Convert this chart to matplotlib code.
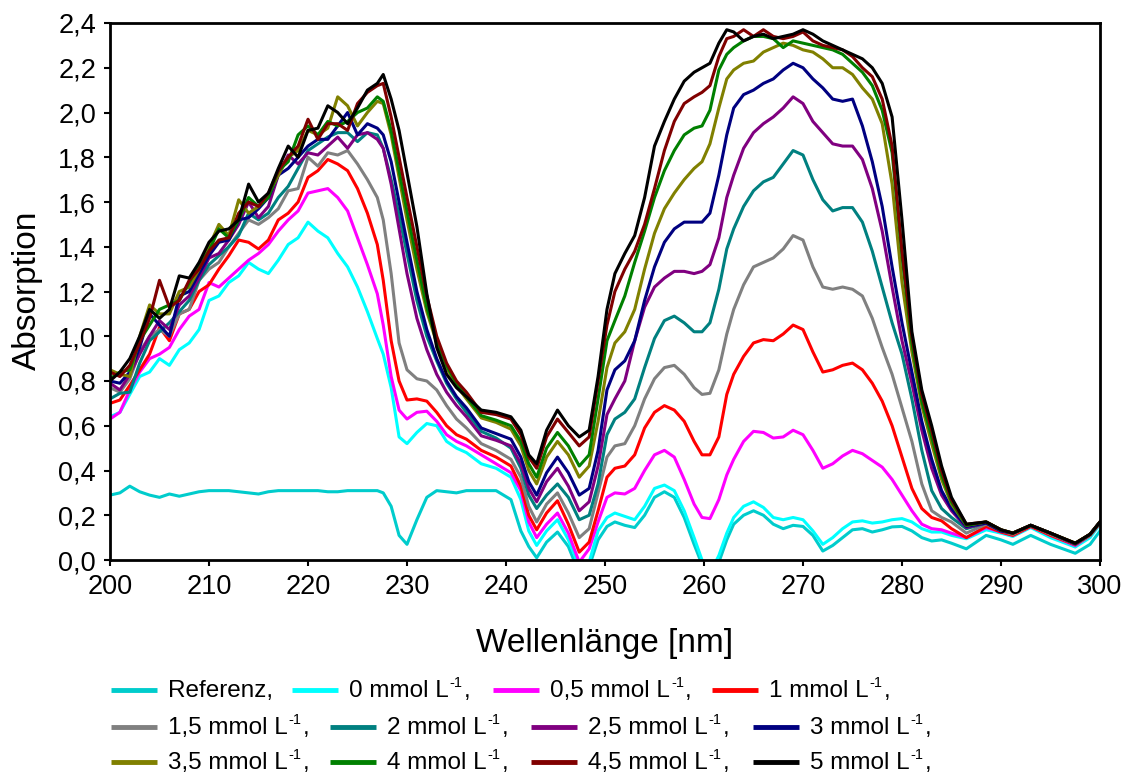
import matplotlib
matplotlib.use("Agg")
import matplotlib.pyplot as plt
from matplotlib.lines import Line2D
from matplotlib.ticker import FuncFormatter

plt.rcParams['font.family'] = ['Liberation Sans', 'DejaVu Sans']

# Wavelength grid (nm) shared by all spectra
wavelength = [200, 201, 202, 203, 204, 205, 206, 207, 208, 209,
              210, 211, 212, 213, 214, 215, 216, 217, 218, 219,
              220, 221, 222, 223, 224, 225, 226, 227,
              227.6, 228.4, 229.2, 230, 231, 232, 233, 234, 235, 236, 237.5, 239, 240.5,
              241.5, 242.3, 243.1, 244.1, 245.2, 246.3, 247.4, 248.4, 249.3,
              250.2, 251, 252, 253, 254, 255, 256, 257, 258, 259,
              259.8, 260.6, 261.5, 262.3, 263, 264, 265, 266, 267, 268, 269, 270,
              271, 272, 273, 274, 275, 276, 277, 278, 279, 280,
              281, 282, 283, 284, 285, 286.5, 288.5, 290, 291.2, 293, 295, 297.5, 299, 300]

referenz = [0.29, 0.30, 0.33, 0.305, 0.29, 0.28, 0.295, 0.285, 0.295, 0.305,
            0.31, 0.31, 0.31, 0.305, 0.30, 0.295, 0.305, 0.31, 0.31, 0.31,
            0.31, 0.31, 0.305, 0.305, 0.31, 0.31, 0.31, 0.31,
            0.30, 0.24, 0.11, 0.07, 0.18, 0.28, 0.31, 0.305, 0.30, 0.31, 0.31, 0.31, 0.27,
            0.13, 0.06, 0.01, 0.08, 0.125, 0.06, -0.06, -0.03, 0.09,
            0.15, 0.17, 0.155, 0.145, 0.20, 0.28, 0.305, 0.28, 0.19, 0.07,
            -0.02, -0.08, -0.01, 0.09, 0.16, 0.20, 0.22, 0.20, 0.16, 0.14, 0.155, 0.15,
            0.11, 0.04, 0.065, 0.10, 0.135, 0.14, 0.125, 0.135, 0.148, 0.15,
            0.13, 0.10, 0.085, 0.09, 0.075, 0.05, 0.11, 0.09, 0.07, 0.11, 0.07, 0.03, 0.07, 0.13]

conc_0 = [0.64, 0.66, 0.74, 0.82, 0.84, 0.90, 0.87, 0.94, 0.97, 1.03,
          1.16, 1.18, 1.24, 1.27, 1.33, 1.30, 1.28, 1.34, 1.41, 1.44,
          1.51, 1.47, 1.44, 1.37, 1.31, 1.22, 1.11, 0.99,
          0.92, 0.77, 0.55, 0.52, 0.57, 0.61, 0.60, 0.53, 0.50, 0.48, 0.43, 0.41, 0.37,
          0.27, 0.13, 0.065, 0.13, 0.18, 0.09, -0.03, -0.01, 0.13,
          0.19, 0.21, 0.195, 0.18, 0.24, 0.32, 0.335, 0.31, 0.22, 0.10,
          0.0, -0.06, 0.02, 0.12, 0.19, 0.24, 0.26, 0.235, 0.19, 0.18, 0.19, 0.18,
          0.13, 0.07, 0.10, 0.14, 0.17, 0.175, 0.165, 0.17, 0.18, 0.185,
          0.17, 0.14, 0.125, 0.125, 0.11, 0.095, 0.135, 0.12, 0.105, 0.145, 0.10, 0.058, 0.10, 0.16]

conc_05 = [0.63, 0.66, 0.76, 0.84, 0.90, 0.92, 0.95, 1.03, 1.09, 1.12,
           1.24, 1.22, 1.26, 1.30, 1.34, 1.37, 1.41, 1.47, 1.52, 1.56,
           1.64, 1.65, 1.66, 1.62, 1.56, 1.44, 1.32, 1.19,
           1.05, 0.82, 0.67, 0.63, 0.66, 0.665, 0.62, 0.56, 0.53, 0.51, 0.47, 0.43, 0.39,
           0.31, 0.17, 0.10, 0.16, 0.21, 0.12, -0.01, 0.05, 0.17,
           0.28, 0.30, 0.295, 0.32, 0.40, 0.47, 0.49, 0.46, 0.36, 0.25,
           0.19, 0.185, 0.27, 0.38, 0.45, 0.53, 0.575, 0.57, 0.545, 0.55, 0.58, 0.56,
           0.49, 0.41, 0.43, 0.465, 0.49, 0.475, 0.445, 0.415, 0.36, 0.29,
           0.22, 0.16, 0.14, 0.135, 0.12, 0.10, 0.145, 0.125, 0.11, 0.15, 0.11, 0.065, 0.11, 0.165]

conc_1 = [0.70, 0.715, 0.78, 0.85, 0.92, 1.04, 0.98, 1.10, 1.12, 1.20,
          1.23, 1.30, 1.36, 1.43, 1.42, 1.39, 1.43, 1.52, 1.55, 1.60,
          1.71, 1.74, 1.79, 1.77, 1.74, 1.66, 1.55, 1.41,
          1.25, 0.98, 0.80, 0.715, 0.72, 0.71, 0.66, 0.60, 0.56, 0.54, 0.49, 0.46, 0.42,
          0.33, 0.20, 0.135, 0.21, 0.265, 0.16, 0.035, 0.08, 0.22,
          0.37, 0.41, 0.42, 0.47, 0.59, 0.66, 0.69, 0.67, 0.62, 0.53,
          0.47, 0.47, 0.55, 0.74, 0.83, 0.91, 0.97, 0.985, 0.98, 1.01, 1.05, 1.03,
          0.93, 0.84, 0.85, 0.87, 0.88, 0.85, 0.79, 0.71, 0.60, 0.46,
          0.32, 0.23, 0.19, 0.175, 0.14, 0.10, 0.15, 0.125, 0.11, 0.15, 0.11, 0.068, 0.11, 0.165]

conc_15 = [0.77, 0.75, 0.81, 0.93, 1.00, 1.03, 1.00, 1.10, 1.12, 1.25,
           1.30, 1.33, 1.40, 1.46, 1.52, 1.50, 1.53, 1.57, 1.65, 1.66,
           1.80, 1.76, 1.82, 1.81, 1.83, 1.77, 1.70, 1.62,
           1.52, 1.28, 0.97, 0.85, 0.81, 0.80, 0.76, 0.69, 0.63, 0.59, 0.52, 0.49, 0.45,
           0.37, 0.24, 0.17, 0.25, 0.30, 0.21, 0.10, 0.14, 0.30,
           0.46, 0.51, 0.52, 0.60, 0.72, 0.81, 0.86, 0.87, 0.83, 0.77,
           0.74, 0.745, 0.85, 1.01, 1.12, 1.23, 1.31, 1.33, 1.35, 1.39, 1.45, 1.43,
           1.31, 1.22, 1.21, 1.22, 1.21, 1.18, 1.08, 0.95, 0.83, 0.68,
           0.53, 0.34, 0.22, 0.19, 0.17, 0.12, 0.16, 0.13, 0.115, 0.155, 0.115, 0.07, 0.11, 0.165]

conc_2 = [0.72, 0.745, 0.75, 0.88, 0.98, 1.02, 1.06, 1.11, 1.16, 1.25,
          1.32, 1.36, 1.40, 1.45, 1.55, 1.52, 1.55, 1.62, 1.67, 1.75,
          1.83, 1.86, 1.89, 1.91, 1.91, 1.87, 1.91, 1.90,
          1.84, 1.70, 1.54, 1.37, 1.16, 1.00, 0.89, 0.79, 0.72, 0.66, 0.575, 0.545, 0.50,
          0.41, 0.29, 0.23, 0.29, 0.34, 0.28, 0.18, 0.20, 0.34,
          0.56, 0.63, 0.66, 0.72, 0.86, 0.99, 1.07, 1.09, 1.06, 1.02,
          1.02, 1.06, 1.21, 1.39, 1.48, 1.58, 1.65, 1.69, 1.71, 1.77, 1.83, 1.81,
          1.70, 1.61, 1.56, 1.575, 1.575, 1.51, 1.38, 1.22, 1.06, 0.92,
          0.72, 0.49, 0.31, 0.23, 0.19, 0.14, 0.165, 0.13, 0.12, 0.155, 0.12, 0.072, 0.115, 0.17]

conc_25 = [0.79, 0.76, 0.83, 0.92, 1.00, 1.07, 1.03, 1.14, 1.18, 1.26,
           1.35, 1.37, 1.43, 1.50, 1.60, 1.53, 1.58, 1.72, 1.81, 1.77,
           1.82, 1.81, 1.85, 1.89, 1.84, 1.90, 1.91, 1.88,
           1.84, 1.68, 1.48, 1.28, 1.08, 0.94, 0.83, 0.75, 0.69, 0.64, 0.555, 0.535, 0.51,
           0.43, 0.32, 0.26, 0.35, 0.41, 0.33, 0.22, 0.26, 0.42,
           0.65, 0.72, 0.80, 0.98, 1.13, 1.22, 1.26, 1.29, 1.29, 1.28,
           1.29, 1.32, 1.44, 1.62, 1.72, 1.84, 1.91, 1.95, 1.98, 2.02, 2.07, 2.04,
           1.96, 1.91, 1.86, 1.85, 1.85, 1.79, 1.66, 1.47, 1.22, 0.98,
           0.79, 0.58, 0.41, 0.29, 0.22, 0.145, 0.165, 0.13, 0.12, 0.155, 0.12, 0.072, 0.115, 0.17]

conc_3 = [0.80, 0.79, 0.84, 0.95, 1.10, 1.05, 1.00, 1.18, 1.20, 1.28,
          1.36, 1.42, 1.43, 1.52, 1.53, 1.57, 1.62, 1.72, 1.75, 1.80,
          1.85, 1.88, 1.88, 1.94, 2.00, 1.90, 1.95, 1.93,
          1.90, 1.78, 1.60, 1.42, 1.20, 1.03, 0.90, 0.80, 0.73, 0.68, 0.59, 0.565, 0.54,
          0.46, 0.35, 0.29, 0.39, 0.46, 0.39, 0.29, 0.32, 0.49,
          0.76, 0.85, 0.89, 0.98, 1.16, 1.31, 1.42, 1.48, 1.51, 1.51,
          1.51, 1.55, 1.72, 1.90, 2.02, 2.08, 2.10, 2.13, 2.15, 2.19, 2.22, 2.20,
          2.15, 2.11, 2.06, 2.05, 2.06, 1.94, 1.78, 1.58, 1.31, 1.06,
          0.84, 0.62, 0.45, 0.31, 0.23, 0.15, 0.165, 0.13, 0.12, 0.155, 0.12, 0.072, 0.115, 0.17]

conc_35 = [0.85, 0.83, 0.82, 1.00, 1.14, 1.10, 1.10, 1.20, 1.22, 1.30,
           1.40, 1.50, 1.45, 1.61, 1.55, 1.58, 1.63, 1.72, 1.80, 1.83,
           1.92, 1.90, 1.93, 2.07, 2.03, 1.94, 2.00, 2.05,
           2.04, 1.90, 1.71, 1.52, 1.30, 1.11, 0.97, 0.86, 0.78, 0.72, 0.635, 0.615, 0.585,
           0.51, 0.40, 0.34, 0.46, 0.53, 0.47, 0.37, 0.42, 0.62,
           0.86, 0.97, 1.02, 1.12, 1.30, 1.46, 1.57, 1.64, 1.70, 1.75,
           1.78, 1.86, 2.02, 2.15, 2.19, 2.22, 2.23, 2.27, 2.29, 2.31, 2.30, 2.28,
           2.27, 2.24, 2.20, 2.20, 2.17, 2.11, 2.06, 1.95, 1.68, 1.24,
           0.93, 0.69, 0.52, 0.36, 0.25, 0.155, 0.17, 0.135, 0.12, 0.155, 0.12, 0.075, 0.115, 0.17]

conc_4 = [0.81, 0.84, 0.85, 0.98, 1.05, 1.12, 1.14, 1.16, 1.24, 1.32,
          1.38, 1.48, 1.44, 1.52, 1.62, 1.58, 1.62, 1.74, 1.78, 1.90,
          1.94, 1.90, 1.96, 1.94, 1.96, 2.00, 2.02, 2.07,
          2.05, 1.92, 1.74, 1.56, 1.34, 1.13, 0.98, 0.87, 0.79, 0.73, 0.645, 0.625, 0.60,
          0.53, 0.43, 0.37, 0.50, 0.57, 0.51, 0.42, 0.47, 0.72,
          0.98, 1.07, 1.18, 1.33, 1.47, 1.62, 1.74, 1.83, 1.90, 1.93,
          1.94, 2.01, 2.19, 2.26, 2.29, 2.32, 2.34, 2.34, 2.33, 2.29, 2.32, 2.31,
          2.30, 2.29, 2.28, 2.26, 2.22, 2.18, 2.12, 2.01, 1.82, 1.36,
          0.97, 0.71, 0.55, 0.38, 0.26, 0.155, 0.17, 0.135, 0.12, 0.155, 0.12, 0.075, 0.115, 0.17]

conc_45 = [0.84, 0.82, 0.87, 0.97, 1.08, 1.25, 1.13, 1.16, 1.25, 1.30,
           1.38, 1.43, 1.44, 1.55, 1.60, 1.58, 1.64, 1.74, 1.80, 1.85,
           1.97, 1.88, 1.95, 1.95, 1.92, 2.04, 2.09, 2.12,
           2.13, 1.98, 1.80, 1.62, 1.40, 1.18, 1.00, 0.88, 0.80, 0.75, 0.66, 0.65, 0.63,
           0.56, 0.46, 0.41, 0.55, 0.63, 0.57, 0.51, 0.55, 0.80,
           1.05, 1.20, 1.30, 1.38, 1.50, 1.66, 1.83, 1.96, 2.04, 2.07,
           2.09, 2.12, 2.25, 2.33, 2.34, 2.37, 2.34, 2.37, 2.34, 2.33, 2.34, 2.36,
           2.32, 2.30, 2.29, 2.28, 2.25, 2.20, 2.16, 2.06, 1.85, 1.38,
           1.00, 0.74, 0.58, 0.40, 0.27, 0.16, 0.17, 0.135, 0.12, 0.155, 0.12, 0.075, 0.115, 0.17]

conc_5 = [0.80, 0.84, 0.90, 1.00, 1.12, 1.08, 1.12, 1.27, 1.26, 1.33,
          1.42, 1.47, 1.48, 1.52, 1.68, 1.60, 1.64, 1.75, 1.85, 1.80,
          1.92, 1.93, 2.03, 2.00, 1.95, 2.02, 2.10, 2.13,
          2.17, 2.06, 1.92, 1.73, 1.49, 1.19, 0.95, 0.83, 0.77, 0.73, 0.67, 0.66, 0.64,
          0.58, 0.47, 0.43, 0.58, 0.67, 0.60, 0.55, 0.58, 0.82,
          1.12, 1.28, 1.37, 1.45, 1.62, 1.85, 1.96, 2.06, 2.14, 2.18,
          2.20, 2.22, 2.31, 2.37, 2.36, 2.32, 2.34, 2.35, 2.33, 2.34, 2.35, 2.37,
          2.35, 2.32, 2.30, 2.28, 2.26, 2.24, 2.20, 2.13, 1.98, 1.52,
          1.02, 0.76, 0.60, 0.42, 0.28, 0.16, 0.17, 0.135, 0.12, 0.155, 0.12, 0.075, 0.115, 0.17]

# Legend wording: first entry is the reference, the rest are concentrations
reference_label = "Referenz,"
concentrations = ["0", "0,5", "1", "1,5", "2", "2,5", "3", "3,5", "4", "4,5", "5"]
unit_main = "mmol L"
unit_sup = "-1"

colors = ["#00CCCC", "#00FFFF", "#FF00FF", "#FF0000",
          "#808080", "#008080", "#800080", "#000080",
          "#808000", "#008000", "#800000", "#000000"]
spectra = [referenz, conc_0, conc_05, conc_1, conc_15, conc_2,
           conc_25, conc_3, conc_35, conc_4, conc_45, conc_5]

x_ticks = [200, 210, 220, 230, 240, 250, 260, 270, 280, 290, 300]
y_ticks = [0.0, 0.2, 0.4, 0.6, 0.8, 1.0, 1.2, 1.4, 1.6, 1.8, 2.0, 2.2, 2.4]

W, H = 1131, 776
fig = plt.figure(figsize=(W / 100, H / 100), dpi=100)
ax = fig.add_axes([110 / W, 1 - 560 / H, 990 / W, 537 / H])

for values, color in zip(spectra, colors):
    ax.plot(wavelength, values, color=color, lw=2.2, solid_joinstyle='round')

ax.set_xlim(200, 300)
ax.set_ylim(0, 2.4)
ax.set_xticks(x_ticks)
ax.set_yticks(y_ticks)
ax.yaxis.set_major_formatter(FuncFormatter(lambda v, p: f"{v:.1f}".replace('.', ',')))
ax.tick_params(direction='out', length=4, width=1.5, labelsize=19.5, pad=6, colors='black')
for spine in ax.spines.values():
    spine.set_linewidth(2.0)
    spine.set_color('black')

fig.text(605 / W, 1 - 652 / H, "Wellenlänge [nm]", ha='center', va='baseline', fontsize=24)
fig.text(27 / W, 1 - 290 / H, "Absorption", ha='center', va='center', rotation=90, fontsize=24)

# Flowing legend: three rows of four entries, each a colour stroke followed by its text
renderer = fig.canvas.get_renderer()
row_y = [690, 727, 762]
row_x = [[111, 292, 493, 712], [111, 330, 531, 753], [111, 330, 531, 753]]
entries = [(reference_label, None)] + [(f"{c} {unit_main}", unit_sup) for c in concentrations]

for i, ((main, sup), color) in enumerate(zip(entries, colors)):
    r, k = divmod(i, 4)
    x0, yc = row_x[r][k], row_y[r]
    fig.add_artist(Line2D([x0 / W, (x0 + 46) / W], [1 - yc / H] * 2,
                          transform=fig.transFigure, color=color, lw=3.5,
                          solid_capstyle='butt'))
    base = yc + 7
    t = fig.text((x0 + 57) / W, 1 - base / H, main, fontsize=17.5, va='baseline', ha='left')
    if sup is None:
        continue
    x_end = t.get_window_extent(renderer).x1
    s = fig.text((x_end + 1) / W, 1 - (base - 10) / H, sup, fontsize=10.5,
                 va='baseline', ha='left')
    x_end = s.get_window_extent(renderer).x1
    fig.text((x_end + 1) / W, 1 - base / H, ",", fontsize=17.5, va='baseline', ha='left')

fig.savefig("out.png", dpi=100)
